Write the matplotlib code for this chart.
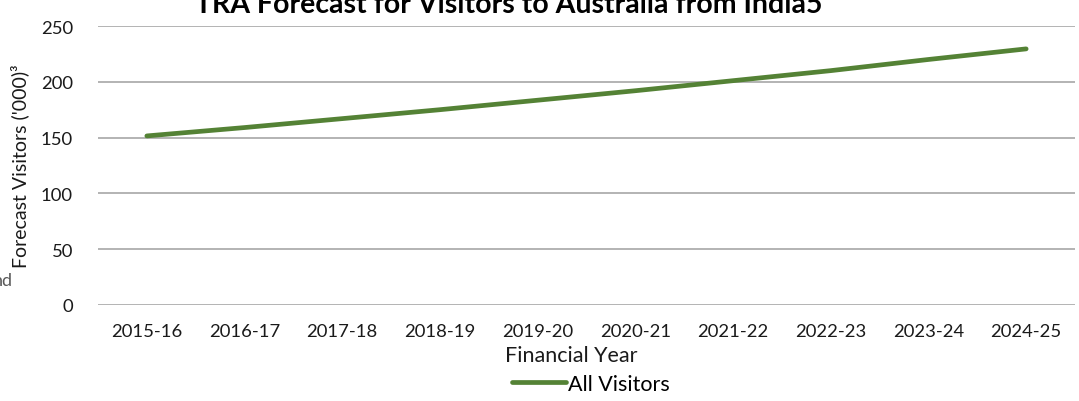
import matplotlib.pyplot as plt
from matplotlib.ticker import MultipleLocator

years = ['2015-16', '2016-17', '2017-18', '2018-19', '2019-20',
         '2020-21', '2021-22', '2022-23', '2023-24', '2024-25']
visitors = [151.5, 159, 167, 175, 183.5, 192, 201, 210, 220, 229.5]

plt.rcParams['font.family'] = ['Lato', 'DejaVu Sans']

W, H = 1079, 402
fig = plt.figure(figsize=(W / 100, H / 100), dpi=100)
ax = fig.add_axes([98 / W, 1 - 306 / H, (1075 - 98) / W, (306 - 27) / H])

x = range(len(years))
ax.plot(x, visitors, color='#548235', linewidth=3.4, solid_capstyle='round',
        label='All Visitors')

ax.set_xlim(-0.5, len(years) - 0.5)
ax.set_ylim(0, 250)
ax.yaxis.set_major_locator(MultipleLocator(50))
ax.set_xticks(list(x))
ax.set_xticklabels(years)
ax.grid(axis='y', color='#b3b3b3', linewidth=1.4)
ax.set_axisbelow(True)
for s in ax.spines.values():
    s.set_visible(False)
ax.tick_params(length=0, labelsize=13.3, colors='#1a1a1a')
ax.tick_params(axis='x', pad=13)
ax.tick_params(axis='y', pad=18)

fig.text(509 / W, 1 - 13 / H, 'TRA Forecast for Visitors to Australia from India5',
         ha='center', va='baseline', fontsize=20.5, fontweight='bold')
fig.text(20 / W, 1 - 166 / H, "Forecast Visitors ('000)³", rotation=90,
         ha='center', va='center', fontsize=14, color='#1a1a1a')
fig.text(571 / W, 1 - 356 / H, 'Financial Year', ha='center', va='center',
         fontsize=15.5, color='#1a1a1a')
fig.text(13 / W, 1 - 281 / H, 'nd', ha='right', va='center', fontsize=13,
         color='#595959')

fig.legend(loc='center', bbox_to_anchor=(591 / W, 1 - 385 / H), frameon=False,
           fontsize=15.5, handlelength=2.5, handletextpad=0.1)

fig.savefig('out.png', dpi=100)
